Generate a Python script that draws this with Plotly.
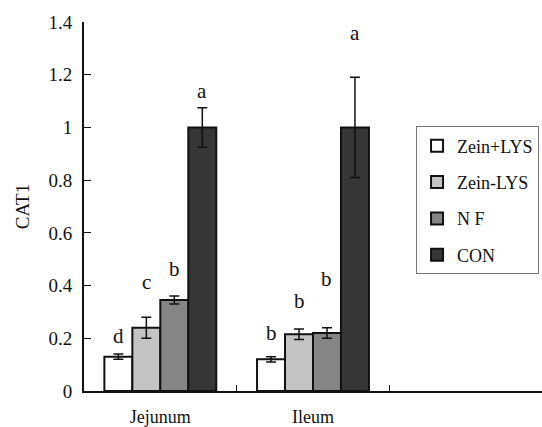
import plotly.graph_objects as go

categories = ["Jejunum", "Ileum"]
axis_categories = ["Jejunum", "Ileum", " "]
series_names = ["Zein+LYS", "Zein-LYS", "N F", "CON"]
values = {
    "Zein+LYS": [0.13, 0.12],
    "Zein-LYS": [0.24, 0.215],
    "N F": [0.345, 0.22],
    "CON": [1.0, 1.0],
}
errors = {
    "Zein+LYS": [0.01, 0.01],
    "Zein-LYS": [0.04, 0.02],
    "N F": [0.015, 0.02],
    "CON": [0.075, 0.19],
}
letters = {
    "Zein+LYS": ["d", "b"],
    "Zein-LYS": ["c", "b"],
    "N F": ["b", "b"],
    "CON": ["a", "a"],
}
letter_heights = {
    "Zein+LYS": [0.21, 0.22],
    "Zein-LYS": [0.415, 0.343],
    "N F": [0.464, 0.426],
    "CON": [1.14, 1.36],
}
colors = {
    "Zein+LYS": "#ffffff",
    "Zein-LYS": "#c4c4c4",
    "N F": "#858585",
    "CON": "#363636",
}

FONT = "Liberation Serif"

fig = go.Figure()
for name in series_names:
    fig.add_trace(go.Bar(
        x=categories, y=values[name], name=name,
        legendgroup=name,
        marker=dict(color=colors[name], line=dict(color="#111111", width=2)),
        error_y=dict(type="data", array=errors[name], color="#111111", thickness=1.5, width=5),
    ))

n = len(series_names)
group_width = 1 - 0.267
bar_w = group_width / n
for i, name in enumerate(series_names):
    for j, cat in enumerate(categories):
        xpos = j - group_width / 2 + bar_w * (i + 0.5)
        fig.add_annotation(
            x=xpos, y=letter_heights[name][j], xref="x", yref="y",
            text=letters[name][j], showarrow=False,
            font=dict(family=FONT, size=21, color="#111111"),
        )

fig.update_layout(
    width=542, height=427,
    margin=dict(l=84, r=0, t=22, b=34),
    paper_bgcolor="white", plot_bgcolor="white",
    barmode="group", bargap=0.267, bargroupgap=0,
    font=dict(family=FONT, size=16, color="#111111"),
    showlegend=True,
    legend=dict(
        x=0.725, y=0.717, xanchor="left", yanchor="top",
        bordercolor="#777777", borderwidth=1, bgcolor="white",
        font=dict(family=FONT, size=18, color="#111111"),
        tracegroupgap=10, itemwidth=30,
    ),
    xaxis=dict(
        type="category", categoryorder="array", categoryarray=axis_categories,
        range=[-0.5, 2.5], showline=True, linecolor="#111111", linewidth=2,
        ticks="inside", tickson="boundaries", ticklen=6, tickcolor="#111111",
        tickfont=dict(family=FONT, size=18), showgrid=False, zeroline=False,
        ticklabelstandoff=8,
    ),
    yaxis=dict(
        range=[0, 1.4], tickvals=[0, 0.2, 0.4, 0.6, 0.8, 1, 1.2, 1.4],
        ticktext=["0", "0.2", "0.4", "0.6", "0.8", "1", "1.2", "1.4"],
        showline=True, linecolor="#111111", linewidth=2,
        ticks="inside", ticklen=7, tickcolor="#111111",
        tickfont=dict(family=FONT, size=19), showgrid=False, zeroline=False,
        ticklabelstandoff=6,
        title=dict(text="CAT1", font=dict(family=FONT, size=19), standoff=14),
    ),
)

fig.write_html("out.html", config={"displayModeBar": False},
               post_script="document.body.style.margin='0px';")
